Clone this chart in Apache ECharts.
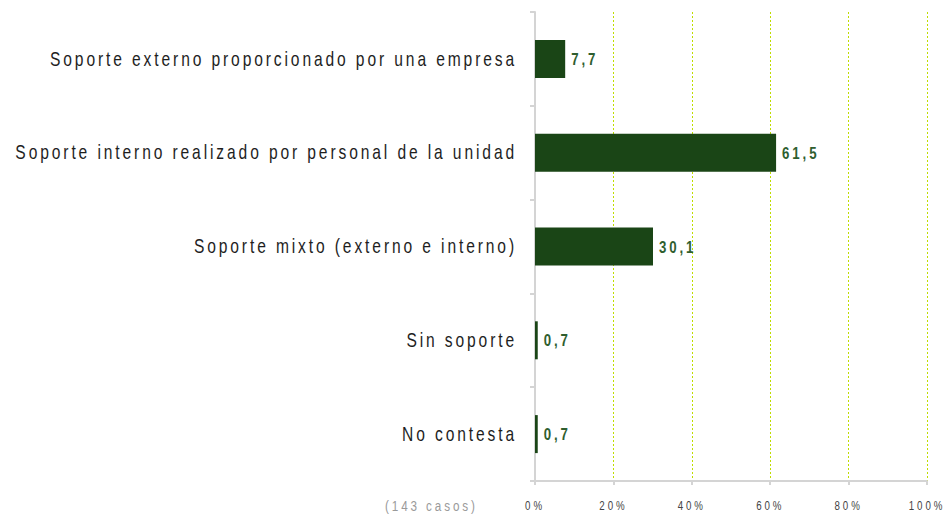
<!DOCTYPE html>
<html>
<head>
<meta charset="utf-8">
<script src="https://cdn.jsdelivr.net/npm/echarts@6/dist/echarts.min.js"></script>
<style>
  html, body { margin: 0; padding: 0; background: #fff; }
  #chart { width: 946px; height: 516px; }
  #chart text { letter-spacing: 3.7px; }
</style>
</head>
<body>
<div id="chart"></div>
<script>
const categories = [
  'Soporte externo proporcionado por una empresa',
  'Soporte interno realizado por personal de la unidad',
  'Soporte mixto (externo e interno)',
  'Sin soporte',
  'No contesta'
];
const values = [7.7, 61.5, 30.1, 0.7, 0.7];
const xTicks = [0, 20, 40, 60, 80, 100];
const caseNote = '(143 casos)';

// no narrow font installed, so Liberation Sans gets squeezed horizontally below
const font = '"Liberation Sans", Arial, sans-serif';
const squeeze = 0.78;

const chart = echarts.init(document.getElementById('chart'), null, { renderer: 'svg' });

const option = {
  animation: false,
  grid: { left: 535, right: 16, top: 12, bottom: 35 },
  xAxis: {
    type: 'value',
    min: xTicks[0],
    max: xTicks[xTicks.length - 1],
    interval: 20,
    axisLine: { show: true, lineStyle: { color: '#d4d4d4', width: 2 } },
    axisTick: { show: true, length: 4, lineStyle: { color: '#d4d4d4', width: 2 } },
    axisLabel: {
      formatter: '{value}%',
      color: '#444',
      fontSize: 12.5,
      fontFamily: font,
      margin: 18
    },
    splitLine: {
      show: true,
      lineStyle: { color: '#bfdc00', type: [2, 2], width: 1 }
    }
  },
  yAxis: {
    type: 'category',
    inverse: true,
    data: categories,
    axisLine: { show: true, lineStyle: { color: '#d4d4d4', width: 2 } },
    axisTick: { show: true, length: 5, lineStyle: { color: '#d4d4d4', width: 2 } },
    axisLabel: {
      color: '#1e1e1e',
      fontSize: 20,
      fontFamily: font,
      margin: 18
    }
  },
  series: [
    {
      type: 'bar',
      data: values,
      barWidth: 38,
      itemStyle: { color: '#1a4516' },
      label: {
        show: true,
        position: 'right',
        distance: 6,
        color: '#2f5e2f',
        fontWeight: 'bold',
        fontSize: 17,
        fontFamily: font,
        formatter: p => String(p.value).replace('.', ',')
      }
    }
  ],
  graphic: [
    {
      type: 'text',
      left: 385,
      top: 498,
      style: {
        text: caseNote,
        fill: '#9a9a9a',
        fontSize: 15,
        fontFamily: font
      }
    }
  ]
};

chart.setOption(option);

function squeezeTexts() {
  document.querySelectorAll('#chart svg text').forEach(t => {
    if (t.getAttribute('data-sq')) return;
    const x = parseFloat(t.getAttribute('x') || 0);
    const y = parseFloat(t.getAttribute('y') || 0);
    const old = t.getAttribute('transform') || '';
    t.setAttribute('transform',
      old + ` translate(${x} ${y}) scale(${squeeze} 1) translate(${-x} ${-y})`);
    t.setAttribute('data-sq', '1');
  });
}
chart.getZr().flush();
squeezeTexts();
chart.on('finished', squeezeTexts);
</script>
</body>
</html>
